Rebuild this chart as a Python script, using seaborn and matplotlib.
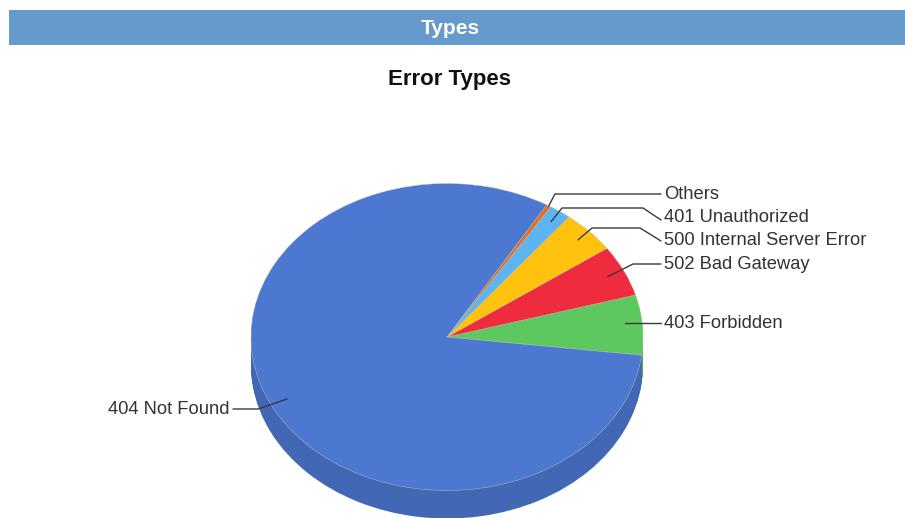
"""Error Types: 3D-looking pie chart with a header band."""

import matplotlib

matplotlib.use("Agg")

import matplotlib.pyplot as plt
import numpy as np
import seaborn as sns
from matplotlib.colors import to_rgb
from matplotlib.patches import Rectangle

sns.set_theme(style="white")
plt.rcParams["font.family"] = ["Liberation Sans", "DejaVu Sans"]

# data, in pie order (counter clockwise from START_ANGLE)
labels = ["403 Forbidden", "502 Bad Gateway", "500 Internal Server Error",
          "401 Unauthorized", "Others", "404 Not Found"]
shares = [6.3, 5.4, 4.5, 1.8, 0.4, 81.6]
colors = ["#5cc85f", "#ee2c3e", "#ffc20e", "#5cb5f0", "#e0702a", "#4d78d2"]

WIDTH, HEIGHT = 905, 518
CX, CY = 447, 337  # centre of the top face, pixels
RX, RY = 196, 153.5
DEPTH = 28
START_ANGLE = -6.8
SIDE_SHADE = 0.86
TEXT_COLOR = "#333333"
LINE_COLOR = "#3a3a3a"

# leader lines: label anchor and elbow in pixels, radius of the inner end
LEADERS = {
    "403 Forbidden": {"text": (664, 323), "path": [(661, 323)], "r": 0.91, "flat": True},
    "502 Bad Gateway": {"text": (664, 264), "path": [(661, 264), (633, 264)], "r": 0.91},
    "500 Internal Server Error": {"text": (664, 240), "path": [(661, 241), (640, 228), (592, 228)], "r": 0.92},
    "401 Unauthorized": {"text": (664, 217), "path": [(661, 220), (643, 208), (562, 208)], "r": 0.92},
    "Others": {"text": (664, 194), "path": [(661, 194), (555, 194)], "r": 1.0},
    "404 Not Found": {"text": (230, 410), "path": [(233, 409), (258, 409)], "r": 0.91},
}


def px(x, y):
    """Pixel position in the picture to data position on the unit pie."""
    return (x - CX) / RX, (CY - y) / RY


def draw_pie(ax):
    sides = [tuple(v * SIDE_SHADE for v in to_rgb(c)) for c in colors]
    for d in range(DEPTH, 0, -1):
        ax.pie(shares, colors=sides, startangle=START_ANGLE, center=(0, -d / RY),
               wedgeprops={"linewidth": 0, "clip_on": False})
    ax.pie(shares, colors=colors, startangle=START_ANGLE,
           wedgeprops={"linewidth": 0.3, "edgecolor": "#c8c8b0", "clip_on": False})


def draw_leaders(ax):
    edges = START_ANGLE + np.cumsum([0] + shares) * 3.6
    mids = np.deg2rad((edges[:-1] + edges[1:]) / 2)
    for name, mid in zip(labels, mids):
        info = LEADERS[name]
        xs, ys = zip(*[px(*p) for p in info["path"]])
        xs = list(xs) + [info["r"] * np.cos(mid)]
        ys = list(ys) + [ys[-1] if info.get("flat") else info["r"] * np.sin(mid)]
        ax.plot(xs, ys, color=LINE_COLOR, lw=1.0, zorder=5)
        tx, ty = px(*info["text"])
        ha = "right" if name == "404 Not Found" else "left"
        ax.text(tx, ty, name, ha=ha, va="center", fontsize=13.2, color=TEXT_COLOR)


def main():
    fig = plt.figure(figsize=(WIDTH / 100, HEIGHT / 100), dpi=100)
    ax = fig.add_axes([0, 0, 1, 1])
    draw_pie(ax)
    draw_leaders(ax)

    ax.set_aspect("auto")
    ax.set_xlim(-CX / RX, (WIDTH - CX) / RX)
    ax.set_ylim((CY - HEIGHT) / RY, CY / RY)
    ax.axis("off")

    # header band
    fig.add_artist(Rectangle((9 / WIDTH, 1 - 45 / HEIGHT), (WIDTH - 9) / WIDTH, 35 / HEIGHT,
                             transform=fig.transFigure, facecolor="#6699cc", edgecolor="none"))
    fig.text(450 / WIDTH, 1 - 28 / HEIGHT, "Types", ha="center", va="center",
             fontsize=15, fontweight="bold", color="white")
    fig.text(449 / WIDTH, 1 - 80 / HEIGHT, "Error Types", ha="center", va="center",
             fontsize=16, fontweight="bold", color="#111111")

    fig.savefig("out.png", dpi=100)
    plt.close(fig)


if __name__ == "__main__":
    main()
